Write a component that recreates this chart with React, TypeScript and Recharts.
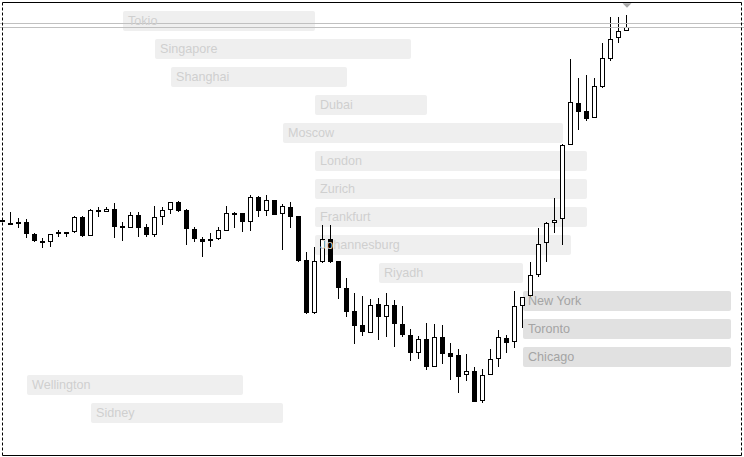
import React from 'react';
import { ComposedChart, Bar, XAxis, YAxis, ReferenceArea, ReferenceLine, ReferenceDot } from 'recharts';

// OHLC values (arbitrary price units, one candle per slot)
const opens = [
  237, 233.7, 232.7, 235, 223, 215.7, 214.7, 222.7, 224, 224.7,
  239.7, 221.3, 246.7, 245.3, 248, 230.7, 229.3, 242, 229.7, 222,
  239.7, 247, 255.3, 247, 228, 218, 216, 217.7, 226.3, 243.3,
  243.7, 234.7, 259.7, 246.3, 257, 243, 250.3, 241.3, 197, 144.3,
  195.3, 218, 196, 168.7, 146, 132, 123.7, 152.7, 139.7, 152,
  132.7, 122, 103.7, 117.7, 89.7, 120.3, 103.7, 102, 81.7, 85.7,
  56.3, 81.7, 97.7, 119, 114.7, 151, 161, 181.7, 213.7, 233.7,
  237.7, 311.7, 353.7, 346, 338.7, 370.3, 398, 418.7, 425.7,
];
const highs = [
  238.5, 244.7, 238.7, 238.3, 223.7, 218.7, 223, 227, 225, 241,
  241, 248, 249.7, 249.7, 253.7, 234.7, 244.7, 244.7, 233, 251,
  249.7, 254.7, 256.3, 248, 230.3, 220.3, 223.7, 229.7, 251, 244.7,
  243.7, 262, 261.3, 262, 257, 253, 255, 241.3, 205.3, 210.3,
  232, 232, 196, 179.3, 164.3, 161, 158, 158.7, 163.7, 157,
  151, 128, 121, 133.7, 133, 132, 114.3, 107.7, 103, 90.3,
  88, 108, 127, 122, 166, 160.3, 195.3, 228.7, 234.7, 258.7,
  313, 398, 379.3, 382, 379.3, 413.7, 440.3, 440.3, 442,
];
const lows = [
  235.5, 232, 229.3, 219, 214.7, 208.7, 210.3, 220.3, 220.3, 224.3,
  220.3, 221.3, 240.3, 244.7, 218.7, 216.3, 229.3, 220.3, 220.3, 220.3,
  232, 243, 244.7, 212, 215.3, 200.3, 210.3, 217, 226.3, 228.7,
  225.3, 226.3, 240.3, 241.3, 242.3, 207, 228.7, 195.3, 142.7, 142.7,
  193.7, 193.7, 157.7, 140.3, 112.7, 121, 123.7, 117, 120.3, 110.3,
  120.3, 96.3, 97.7, 87, 89.7, 93, 77, 64.3, 76.3, 54.7,
  53.7, 81.7, 89.7, 103.7, 108.7, 128.7, 160.3, 179.7, 195.3, 223.7,
  212, 311.7, 327, 336.3, 338.7, 369.3, 396.3, 413.7, 425.7,
];
const closes = [
  236.5, 232.3, 235, 223, 215.7, 214.3, 223, 225, 224.7, 239.7,
  221, 247, 245.7, 248, 230.3, 230, 242, 229.3, 222, 239.7,
  247, 254.7, 246.3, 227.7, 217.7, 215.3, 218, 227, 243.7, 243.7,
  234.7, 259.7, 246.3, 257, 242.3, 251, 240, 196, 144.3, 196,
  218, 195.3, 168.7, 145.3, 131.3, 124.7, 152, 139.7, 152, 132.7,
  122, 103.7, 117.7, 90.3, 120.3, 103, 100.3, 80.3, 85.7, 54.7,
  81.7, 97.7, 119.7, 114.3, 151, 160.3, 181.7, 213, 233.7, 237,
  312, 354.7, 345.3, 338, 371, 398.7, 417.7, 426, 429.7,
];

// trading sessions: name, first slot, last slot
const sessionNames = [
  'Tokio', 'Singapore', 'Shanghai', 'Dubai', 'Moscow', 'London', 'Zurich', 'Frankfurt',
  'Johannesburg', 'Riyadh', 'New York', 'Toronto', 'Chicago', 'Wellington', 'Sidney',
];
const sessionStart = [15, 19, 21, 39, 35, 39, 39, 39, 39, 47, 65, 65, 65, 3, 11];
const sessionEnd = [39, 51, 43, 53, 70, 73, 73, 73, 71, 65, 91, 91, 91, 30, 35];
const activeSessions = ['New York', 'Toronto', 'Chicago'];

const bidPrice = 429.5;
const askPrice = 433.5;

const candles = opens.map((o, i) => ({ i, open: o, high: highs[i], low: lows[i], close: closes[i] }));

const FONT = '"Liberation Sans", Arial, sans-serif';
const ROW_H = 20 / 28;

const CandleShape = (props: any) => {
  const { x, y, width, height, payload } = props;
  const top = Math.min(y, y + height);
  const h = Math.abs(height);
  const { open, high, low, close } = payload;
  const span = high - low || 1;
  const py = (v: number) => top + ((high - v) / span) * h;
  const cx = Math.floor(x + width / 2) + 0.5;
  const bt = Math.round(py(Math.max(open, close)));
  const bb = Math.round(py(Math.min(open, close)));
  const up = close >= open;
  return (
    <g>
      <line x1={cx} x2={cx} y1={Math.round(top)} y2={Math.round(top + h)} stroke="#000" strokeWidth={1} />
      <rect
        x={cx - 2}
        y={bt + 0.5}
        width={4}
        height={Math.max(bb - bt - 1, 1)}
        fill={up ? '#fff' : '#000'}
        stroke="#000"
        strokeWidth={1}
      />
    </g>
  );
};

const SessionRect = (props: any) => {
  const { x, y, width, height, fill } = props;
  return <rect x={x} y={y} width={width} height={height} rx={2} ry={2} fill={fill} />;
};

const Marker = (props: any) => {
  const { cx, cy } = props;
  return <polygon points={`${cx - 4.5},${cy - 2} ${cx + 4.5},${cy - 2} ${cx},${cy + 2.5}`} fill="#a8a8a8" />;
};

export default function App() {
  return (
    <div style={{ position: 'absolute', left: 0, top: 0, width: 744, height: 457, background: '#fff' }}>
      <ComposedChart width={744} height={457} data={candles} margin={{ top: 0, right: 0, bottom: 0, left: 0 }}>
        <XAxis type="number" dataKey="i" domain={[-0.375, 92.625]} allowDataOverflow hide />
        <YAxis yAxisId="price" type="number" domain={[0, 457]} allowDataOverflow hide />
        <YAxis yAxisId="rows" type="number" domain={[-11 / 28, 446 / 28]} reversed allowDataOverflow hide />

        {sessionNames.map((name, idx) => {
          const active = activeSessions.includes(name);
          return (
            <ReferenceArea
              key={name}
              yAxisId="rows"
              x1={sessionStart[idx]}
              x2={sessionEnd[idx]}
              y1={idx}
              y2={idx + ROW_H}
              fill={active ? '#e1e1e1' : '#efefef'}
              fillOpacity={1}
              shape={<SessionRect />}
              label={{
                value: name,
                position: 'insideLeft',
                offset: 5,
                fill: active ? '#a4a4a4' : '#cfcfcf',
                fontSize: 12.6,
                fontFamily: FONT,
              }}
            />
          );
        })}

        <ReferenceLine yAxisId="price" y={askPrice} stroke="#c0c0c0" strokeWidth={1} />
        <ReferenceLine yAxisId="price" y={bidPrice} stroke="#c0c0c0" strokeWidth={1} />

        <Bar
          yAxisId="price"
          dataKey={(d: any) => [d.low, d.high]}
          barSize={5}
          shape={<CandleShape />}
          isAnimationActive={false}
        />

        <ReferenceDot yAxisId="rows" x={78} y={-5.7 / 28} r={0} shape={<Marker />} />

        {/* chart frame */}
        <ReferenceLine yAxisId="rows" segment={[{ x: -0.0625, y: -8.5 / 28 }, { x: 92.3125, y: -8.5 / 28 }]} stroke="#000" />
        <ReferenceLine yAxisId="rows" segment={[{ x: -0.0625, y: 444.5 / 28 }, { x: 92.3125, y: 444.5 / 28 }]} stroke="#000" />
        <ReferenceLine yAxisId="rows" segment={[{ x: -0.0625, y: -8.5 / 28 }, { x: -0.0625, y: 444.5 / 28 }]} stroke="#000" strokeDasharray="3 2" />
        <ReferenceLine yAxisId="rows" segment={[{ x: 92.3125, y: -8.5 / 28 }, { x: 92.3125, y: 444.5 / 28 }]} stroke="#000" strokeDasharray="3 2" />
      </ComposedChart>
    </div>
  );
}
